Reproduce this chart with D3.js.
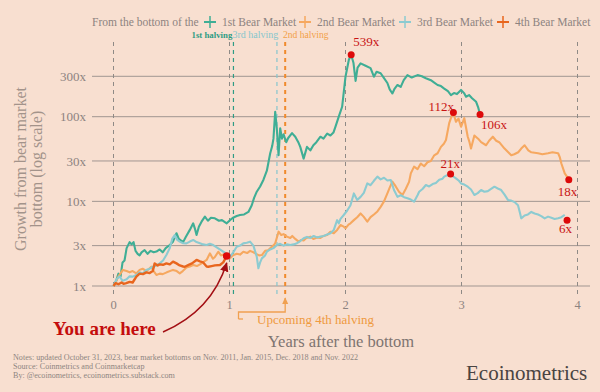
<!DOCTYPE html>
<html><head><meta charset="utf-8">
<script src="https://cdn.jsdelivr.net/npm/d3@7"></script>
<style>
html,body{margin:0;padding:0;background:#f8dfd0;}
svg{display:block;font-family:"Liberation Serif","DejaVu Serif",serif;}
</style></head><body>
<svg id="c" width="600" height="392"></svg>
<script>
// ---------- DATA ----------
const xTicks = [0,1,2,3,4];
const yTicks = [1,3,10,30,100,300];
const yTickLabels = ["1x","3x","10x","30x","100x","300x"];
const seriesNames = ["1st Bear Market","2nd Bear Market","3rd Bear Market","4th Bear Market"];
const seriesColors = ["#3fae95","#f6a860","#8ccbd1","#e8661e"];

// 1st bear market (Nov 2011)
const t1 = [0,0.023,0.043,0.061,0.078,0.095,0.113,0.139,0.156,0.173,0.190,0.208,0.225,0.242,0.268,0.294,0.320,0.346,0.370,0.398,0.424,0.450,0.485,0.511,0.543,0.563,0.600,0.623,0.658,0.687,0.701,0.716,0.736,0.759,0.788,0.814,0.840,0.874,0.909,0.935,0.976,1.004,1.030,1.062,1.091,1.126,1.163,1.192,1.212,1.235,1.264,1.293,1.322,1.351,1.368,1.379,1.394,1.407,1.423,1.437,1.452,1.466,1.489,1.506,1.539,1.567,1.593,1.610,1.639,1.668,1.697,1.723,1.749,1.784,1.810,1.842,1.870,1.896,1.913,1.942,1.971,2.000,2.029,2.049,2.069,2.087,2.104,2.130,2.173,2.216,2.245,2.268,2.303,2.329,2.361,2.381,2.404,2.424,2.448,2.476,2.502,2.534,2.571,2.621,2.658,2.693,2.736,2.762,2.794,2.823,2.851,2.883,2.909,2.935,2.961,2.996,3.022,3.039,3.065,3.091,3.126,3.143,3.160];
const v1 = [1.0,1.15,1.4,1.3,1.9,2.0,2.8,3.3,3.1,3.3,2.6,2.4,2.3,2.5,2.66,2.4,2.6,2.5,2.55,2.7,2.5,2.8,3.05,3.3,4.2,3.6,3.3,3.8,4.6,5.5,4.8,4.0,5.0,5.75,6.6,5.9,6.4,6.3,5.9,6.0,5.5,6.0,6.4,6.7,6.9,7.0,7.5,9.0,11,13,15,18,23,37,45,55,114,75,35,73,55,62,50,56,64,58,50,44,32,44,40,46,50,58,55,63,60,65,76,100,131,297,470,539,430,265,380,426,400,375,297,340,326,290,250,210,188,215,237,225,270,310,290,310,300,285,270,255,237,230,215,200,180,190,185,207,190,172,180,165,150,130,106];

// 2nd bear market (Jan 2015)
const t2 = [0,0.017,0.043,0.081,0.113,0.139,0.165,0.197,0.225,0.251,0.286,0.326,0.346,0.370,0.398,0.424,0.459,0.513,0.545,0.571,0.597,0.629,0.658,0.687,0.719,0.745,0.771,0.803,0.831,0.857,0.874,0.903,0.926,0.952,0.978,1.004,1.030,1.062,1.091,1.119,1.152,1.177,1.206,1.229,1.255,1.279,1.307,1.333,1.351,1.377,1.394,1.423,1.446,1.466,1.495,1.524,1.541,1.567,1.596,1.619,1.639,1.662,1.697,1.723,1.755,1.784,1.810,1.842,1.870,1.899,1.928,1.957,1.985,2.000,2.026,2.043,2.072,2.101,2.130,2.156,2.188,2.216,2.245,2.275,2.303,2.332,2.361,2.381,2.404,2.433,2.461,2.491,2.519,2.548,2.563,2.591,2.621,2.649,2.678,2.707,2.736,2.765,2.794,2.823,2.848,2.866,2.894,2.915,2.929,2.952,2.974,2.996,3.024,3.054,3.069,3.082,3.111,3.143,3.169,3.212,3.238,3.270,3.299,3.325,3.371,3.403,3.429,3.455,3.489,3.515,3.544,3.576,3.602,3.660,3.697,3.746,3.784,3.833,3.848,3.861,3.890,3.919];
const v2 = [1.0,1.1,1.3,1.55,1.5,1.45,1.5,1.41,1.55,1.6,1.5,1.69,1.5,1.35,1.4,1.38,1.45,1.55,1.5,1.41,1.5,1.65,1.7,1.77,1.72,1.8,1.9,2.03,2.43,2.1,2.2,2.54,2.3,2.35,2.2,2.12,2.3,2.4,2.35,2.54,2.45,2.6,2.5,2.4,2.3,2.32,2.6,2.65,2.79,3.0,3.19,4.38,4.0,4.1,3.83,3.7,3.9,3.6,3.34,3.5,3.45,3.7,3.83,3.6,3.75,3.7,3.9,4.0,4.38,4.2,4.6,5.25,5.02,4.8,5.3,5.5,6.0,6.5,7.2,6.6,5.75,6.5,7.0,7.6,8.6,10.0,12.4,14.5,17.1,15.0,13.0,11.9,14.0,17.0,21.4,25.7,24.0,28,26,29,30,35,37,44,48,53,84,102,112,87,95,76,96,58,50,42,60,55,50,46,52,58,52,50,42,38,35,36,38,42,46,40,38,37,36,37,38,37,33,28,21.4,18.7];

// 3rd bear market (Dec 2018)
const t3 = [0,0.026,0.052,0.078,0.113,0.139,0.167,0.197,0.225,0.251,0.283,0.312,0.340,0.370,0.398,0.427,0.456,0.485,0.506,0.528,0.550,0.571,0.600,0.629,0.658,0.687,0.716,0.745,0.773,0.803,0.831,0.860,0.903,0.946,0.976,1.004,1.033,1.062,1.091,1.119,1.149,1.177,1.206,1.235,1.249,1.264,1.279,1.307,1.322,1.351,1.379,1.409,1.437,1.466,1.495,1.524,1.552,1.582,1.610,1.639,1.668,1.697,1.726,1.755,1.784,1.812,1.842,1.870,1.899,1.928,1.942,1.957,1.985,2.015,2.043,2.072,2.101,2.130,2.158,2.188,2.216,2.245,2.275,2.303,2.332,2.361,2.390,2.418,2.448,2.476,2.505,2.534,2.563,2.591,2.621,2.635,2.664,2.693,2.721,2.751,2.779,2.808,2.837,2.851,2.881,2.906,2.926,2.952,2.978,2.996,3.024,3.054,3.082,3.111,3.140,3.169,3.197,3.227,3.255,3.284,3.313,3.342,3.371,3.400,3.429,3.457,3.487,3.502,3.515,3.544,3.573,3.602,3.630,3.660,3.688,3.717,3.746,3.775,3.803,3.833,3.861,3.890];
const v3 = [1.0,1.2,1.3,1.15,1.2,1.3,1.29,1.35,1.45,1.4,1.55,1.6,1.69,1.75,1.85,2.0,2.32,2.8,3.6,4.0,3.5,3.34,3.2,3.19,3.35,3.5,3.3,3.2,3.1,3.05,3.15,3.05,2.79,2.54,2.4,2.22,2.5,2.91,3.0,3.19,3.25,3.34,3.0,2.22,1.62,1.9,2.12,2.3,2.54,2.7,2.8,3.05,3.15,3.0,3.1,3.05,3.1,3.2,3.4,3.66,3.8,3.7,3.9,3.75,3.83,3.9,4.05,4.2,4.6,6.0,5.5,6.2,6.9,7.8,9.0,12.4,10.4,11.3,12.6,16.3,15.5,17.5,19.6,18.2,19.0,17.6,17.9,13.6,11.3,11.8,11.2,10.9,10.5,9.9,11.8,13.0,14.0,15.6,15.0,16.0,16.5,18.0,18.5,19.6,20.5,21,19.8,18.7,17.5,16.3,15.8,14.9,13.8,11.9,12.5,13.6,13.0,13.2,14.0,14.9,14.2,13.6,12.0,10.4,10.2,9.8,9.0,7.5,6.3,6.8,7.0,7.5,7.2,7.0,6.7,6.3,6.6,6.4,6.2,6.3,6.5,6.9];

// 4th bear market (Nov 2022)
const t4 = [0,0.017,0.043,0.069,0.087,0.110,0.139,0.165,0.197,0.225,0.254,0.283,0.312,0.338,0.355,0.381,0.398,0.427,0.456,0.485,0.513,0.543,0.571,0.600,0.615,0.648,0.677,0.716,0.745,0.773,0.803,0.817,0.846,0.874,0.918,0.946,0.976];
const v4 = [1.0,1.08,1.05,1.1,1.06,1.08,1.12,1.1,1.29,1.4,1.38,1.45,1.42,1.5,1.85,1.75,1.8,1.78,1.85,1.8,1.94,1.85,1.75,1.7,1.69,1.78,1.85,2.03,1.95,1.9,1.7,1.69,1.72,1.75,1.77,1.9,2.26];

// halvings
const halvingLabels = ["1st halving","3rd halving","2nd halving"];
const halvingT = [1.034, 1.409, 1.48];
const halvingColors = ["#2f9c84","#86c6cd","#f2a048"];

// peak annotations
const peakT = [2.049, 2.930, 3.160, 2.906, 3.925, 3.910];
const peakV = [539, 112, 106, 21, 18, 6];
const peakLabels = ["539x","112x","106x","21x","18x","6x"];
const hereT = 0.976, hereV = 2.26;

const notes = [
  "Notes: updated October 31, 2023, bear market bottoms on Nov. 2011, Jan. 2015, Dec. 2018 and Nov. 2022",
  "Source: Coinmetrics and Coinmarketcap",
  "By: @ecoinometrics, ecoinometrics.substack.com"
];

// ---------- CHART ----------
const svg = d3.select("#c");
const x = d3.scaleLinear().domain([0,4]).range([113.5, 577.5]);
const y = d3.scaleLog().domain([1,1000]).range([286, 286-3*84.65]);
const grey = "#8d8380";

svg.append("rect").attr("width",600).attr("height",392).attr("fill","#f8dfd0");

// horizontal grid
svg.append("g").selectAll("line").data(yTicks).join("line")
  .attr("x1",92).attr("x2",590)
  .attr("y1",d=>y(d)).attr("y2",d=>y(d))
  .attr("stroke","#a19691").attr("stroke-width",1);
svg.append("g").selectAll("text").data(yTicks).join("text")
  .attr("x",86).attr("y",d=>y(d)).attr("dy","0.35em")
  .attr("text-anchor","end").attr("font-size",13).attr("fill",grey)
  .text((d,i)=>yTickLabels[i]);

// vertical year lines
svg.append("g").selectAll("line").data(xTicks).join("line")
  .attr("x1",d=>x(d)).attr("x2",d=>x(d)).attr("y1",42).attr("y2",297)
  .attr("stroke","#8f8a86").attr("stroke-width",1).attr("stroke-dasharray","4,4");
svg.append("g").selectAll("text").data(xTicks).join("text")
  .attr("x",d=>x(d)).attr("y",308.5).attr("text-anchor","middle")
  .attr("font-size",12.5).attr("fill",grey).text(d=>d);

// halving lines
svg.append("g").selectAll("line").data(halvingT).join("line")
  .attr("x1",d=>x(d)).attr("x2",d=>x(d)).attr("y1",42).attr("y2",297)
  .attr("stroke",(d,i)=>i===2?"#f08a2c":halvingColors[i])
  .attr("stroke-width",(d,i)=>i===2?2:1.2).attr("stroke-dasharray","4,4");
const halvingX = [191.5, 232.5, 283];
const halvingSize = [8.8, 10, 9.6];
svg.append("g").selectAll("text").data(halvingLabels).join("text")
  .attr("x",(d,i)=>halvingX[i]).attr("y",37.5)
  .attr("font-size",(d,i)=>halvingSize[i]).attr("font-weight",(d,i)=>i===0?"bold":"normal")
  .attr("fill",(d,i)=>halvingColors[i]).text(d=>d);

// series lines
const line = d3.line().x(d=>x(d[0])).y(d=>y(d[1]));
const allSeries = [[t1,v1],[t2,v2],[t3,v3],[t4,v4]];
allSeries.forEach(([ts,vs],i)=>{
  svg.append("path").datum(ts.map((t,k)=>[t,vs[k]]))
    .attr("d",line).attr("fill","none")
    .attr("stroke",seriesColors[i]).attr("stroke-width",i===3?2.4:2.1)
    .attr("stroke-linejoin","round");
});

// peak dots & labels
const red = "#c81414";
const lblDx = [2, -25, 1, -10, -11, -8];
const lblDy = [-9, -2, 14, -6, 16, 13];
peakT.forEach((t,i)=>{
  svg.append("circle").attr("cx",x(t)).attr("cy",y(peakV[i])).attr("r",3.5).attr("fill","#dd0a0a");
  svg.append("text").attr("x",x(t)+lblDx[i]).attr("y",y(peakV[i])+lblDy[i])
    .attr("font-size",13).attr("fill",red).text(peakLabels[i]);
});

// you are here
const hx = x(hereT), hy = y(hereV);
svg.append("defs").html(
  '<marker id="ah" viewBox="0 0 10 10" refX="8" refY="5" markerWidth="7" markerHeight="7" orient="auto-start-reverse"><path d="M0,1 L9,5 L0,9 z" fill="#a30f14"/></marker>' +
  '<marker id="ao" viewBox="0 0 10 10" refX="8" refY="5" markerWidth="6" markerHeight="6" orient="auto-start-reverse"><path d="M0,1 L9,5 L0,9 z" fill="#f0a050"/></marker>');
svg.append("path")
  .attr("d",`M163,332 Q${hx-15},${hy+55} ${hx},${hy+7}`)
  .attr("fill","none").attr("stroke","#a30f14").attr("stroke-width",1.5)
  .attr("marker-end","url(#ah)");
svg.append("circle").attr("cx",hx).attr("cy",hy).attr("r",3.8).attr("fill","#dd0a0a");
svg.append("text").attr("x",53).attr("y",335).attr("font-size",19)
  .attr("font-weight","bold").attr("fill","#c40d0d").text("You are here");

// upcoming 4th halving
const ux = x(halvingT[2]);
svg.append("path")
  .attr("d",`M238.5,319 L238.5,312 L${ux},312 L${ux},298`)
  .attr("fill","none").attr("stroke","#f0a050").attr("stroke-width",1.3)
  .attr("marker-end","url(#ao)");
svg.append("path").attr("d","M238.5,319 L243,319").attr("stroke","#f0a050").attr("stroke-width",1.3);
svg.append("text").attr("x",257).attr("y",324).attr("font-size",13)
  .attr("fill","#ef9a40").text("Upcoming 4th halving");

// axis titles
svg.append("text").attr("x",341).attr("y",347).attr("text-anchor","middle")
  .attr("font-size",16.5).attr("fill","#7e7470").text("Years after the bottom");
const yt = svg.append("text").attr("transform","translate(26,169) rotate(-90)")
  .attr("text-anchor","middle").attr("font-size",16).attr("fill","#a3938a");
yt.append("tspan").attr("x",0).attr("y",0).text("Growth from bear market");
yt.append("tspan").attr("x",0).attr("y",16).text("bottom (log scale)");

// legend
const lg = svg.append("g").attr("font-size",11.5).attr("fill",grey);
lg.append("text").attr("x",92).attr("y",26).text("From the bottom of the");
const legX = [210, 305, 405, 503];
seriesNames.forEach((n,i)=>{
  const cx = legX[i];
  lg.append("line").attr("x1",cx-6).attr("x2",cx+6).attr("y1",22).attr("y2",22)
    .attr("stroke",seriesColors[i]).attr("stroke-width",2);
  lg.append("line").attr("x1",cx).attr("x2",cx).attr("y1",16).attr("y2",28)
    .attr("stroke",seriesColors[i]).attr("stroke-width",1.5);
  lg.append("text").attr("x",cx+12).attr("y",26).text(n);
});

// notes
svg.append("g").selectAll("text").data(notes).join("text")
  .attr("x",13).attr("y",(d,i)=>360+i*9).attr("font-size",8.1).attr("fill","#8e8580").text(d=>d);
svg.append("text").attr("x",466).attr("y",380).attr("font-size",21).attr("fill","#4a4442").text("Ecoinometrics");
</script>
</body></html>
